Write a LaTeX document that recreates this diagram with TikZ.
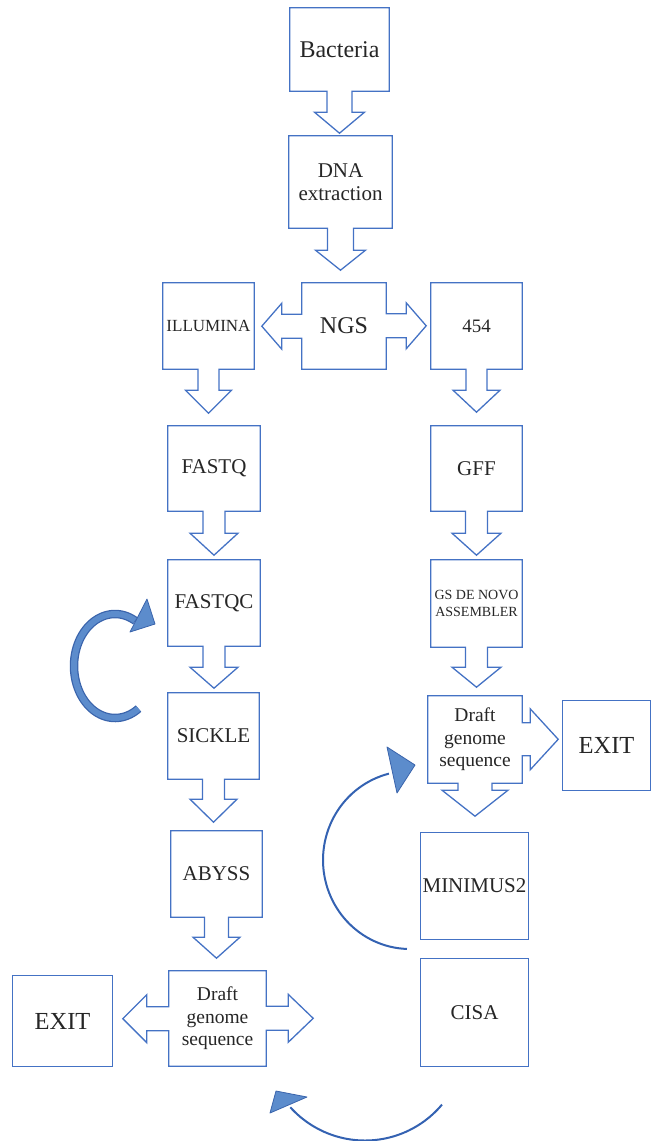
\documentclass[tikz,border=0pt]{standalone}
\usepackage{fontspec}
\setmainfont{Liberation Serif}
\definecolor{boxblue}{RGB}{68,114,196}
\definecolor{arcblue}{RGB}{52,98,178}
\definecolor{arrowfill}{RGB}{92,140,204}
\definecolor{arrowedge}{RGB}{58,100,172}
\definecolor{txtgray}{RGB}{38,38,38}
\newcommand{\fsz}[2]{\fontsize{#1}{#2}\selectfont}
% down-arrow callout outline: name, stem half width, stem length, head half width, head length
\newcommand{\dcall}[5]{%
  \draw[outl] (#1.north west) -- (#1.north east) -- (#1.south east)
    -- ([xshift=#2pt]#1.south) -- ++(0,#3) -- ++(#4-#2,0) -- ++(-#4,#5)
    -- ++(-#4,-#5) -- ++(#4-#2,0) -- ++(0,-#3) -- (#1.south west) -- cycle;}
\begin{document}
\begin{tikzpicture}[x=1pt,y=-1pt,
  bx/.style={inner sep=0pt, align=center, text=txtgray},
  outl/.style={draw=boxblue, line width=1.3pt, line join=miter},
  arcline/.style={draw=arcblue, line width=2pt},
  headtri/.style={fill=arrowfill, draw=arrowedge, line width=0.8pt, line join=round}]
\useasboundingbox (0,0) rectangle (651,1141);

% nodes
\node[bx, minimum width=99pt, minimum height=83pt, font=\fsz{24}{26}] (bact) at (339.5,49.5) {Bacteria};
\node[bx, minimum width=103pt, minimum height=92pt, font=\fsz{21}{23}] (dna) at (340.5,182) {DNA\\extraction};
\node[bx, minimum width=84pt, minimum height=86pt, font=\fsz{24}{26}] (ngs) at (344,326) {NGS};
\node[bx, minimum width=91pt, minimum height=86pt, font=\fsz{17}{19}] (ill) at (208.5,326) {ILLUMINA};
\node[bx, minimum width=91pt, minimum height=86pt, font=\fsz{19}{21}] (f454) at (476.5,326) {454};
\node[bx, minimum width=92pt, minimum height=85pt, font=\fsz{21}{23}] (fastq) at (214,468.5) {FASTQ};
\node[bx, minimum width=92pt, minimum height=86pt, font=\fsz{21}{23}] (fastqc) at (214,603) {FASTQC};
\node[bx, minimum width=91pt, minimum height=86pt, font=\fsz{21}{23}] (sickle) at (213.5,736) {SICKLE};
\node[bx, minimum width=91pt, minimum height=86pt, font=\fsz{21}{23}] (abyss) at (216.5,874) {ABYSS};
\node[bx, minimum width=97pt, minimum height=95pt, font=\fsz{19.5}{22.5}] (dl) at (217.5,1018.5) {Draft\\genome\\sequence};
\node[bx, minimum width=99pt, minimum height=90pt, font=\fsz{24.5}{26}] (exitl) at (62.5,1021) {EXIT};
\node[bx, minimum width=91pt, minimum height=85pt, font=\fsz{21}{23}] (gff) at (476.5,468.5) {GFF};
\node[bx, minimum width=91pt, minimum height=87pt, font=\fsz{14}{17}] (gs) at (476.5,603.5) {GS DE NOVO\\ASSEMBLER};
\node[bx, minimum width=94pt, minimum height=87pt, font=\fsz{19.5}{22.5}] (dr) at (475,739.5) {Draft\\genome\\sequence};
\node[bx, minimum width=87pt, minimum height=89pt, font=\fsz{24.5}{26}] (exitr) at (606.5,745.5) {EXIT};
\node[bx, minimum width=107pt, minimum height=106pt, font=\fsz{21}{23}] (mini) at (474.5,886) {MINIMUS2};
\node[bx, minimum width=107pt, minimum height=107pt, font=\fsz{21}{23}] (cisa) at (474.5,1012.5) {CISA};

% down-arrow callouts
\dcall{bact}{12.5}{21}{25}{21}
\dcall{dna}{13}{22}{25}{20}
\dcall{ill}{10.5}{21}{23}{23}
\dcall{f454}{10.5}{21}{23.5}{22}
\dcall{fastq}{11}{22}{24}{22}
\dcall{fastqc}{11}{21}{24}{21}
\dcall{sickle}{11}{20}{23.5}{23}
\dcall{abyss}{12}{20}{23.5}{21}
\dcall{gff}{11}{22}{24.5}{22}
\dcall{gs}{11}{20}{24.5}{20}

% NGS: left-right arrow callout
\draw[outl] (ngs.north west) -- (ngs.north east) -- ++(0,31) -- ++(20,0) -- ++(0,-11)
  -- ++(20,23) -- ++(-20,23) -- ++(0,-11) -- ++(-20,0) -- (ngs.south east)
  -- (ngs.south west) -- ++(0,-31) -- ++(-20,0) -- ++(0,11) -- ++(-20,-23)
  -- ++(20,-23) -- ++(0,11) -- ++(20,0) -- cycle;

% Draft genome sequence (left): left-right arrow callout
\draw[outl] (dl.north west) -- (dl.north east) -- ++(0,35.5) -- ++(22,0) -- ++(0,-12)
  -- ++(25,24) -- ++(-25,24) -- ++(0,-12) -- ++(-22,0) -- (dl.south east)
  -- (dl.south west) -- ++(0,-35.5) -- ++(-22,0) -- ++(0,12) -- ++(-24,-24)
  -- ++(24,-24) -- ++(0,12) -- ++(22,0) -- cycle;

% Draft genome sequence (right): right + down arrow callout
\draw[outl] (dr.north west) -- (dr.north east) -- ++(0,27) -- ++(8,0) -- ++(0,-14)
  -- ++(28,30.5) -- ++(-28,30.5) -- ++(0,-14) -- ++(-8,0) -- (dr.south east)
  -- ([xshift=17pt]dr.south) -- ++(0,7) -- ++(16,0) -- ++(-33,26) -- ++(-33,-26)
  -- ++(16,0) -- ++(0,-7) -- (dr.south west) -- cycle;

% plain boxes
\draw[outl] (exitl.north west) rectangle (exitl.south east);
\draw[outl] (exitr.north west) rectangle (exitr.south east);
\draw[outl] (mini.north west) rectangle (mini.south east);
\draw[outl] (cisa.north west) rectangle (cisa.south east);

% curved arrow: SICKLE back to FASTQC
\coordinate (loopA) at (130,632);
\coordinate (loopB) at (147,599);
\coordinate (loopTip) at (155,624);
\draw[draw=arrowedge, line width=8.5pt] plot[domain=55:300, samples=80, smooth] ({115+41*cos(\x)},{666+52*sin(\x)});
\draw[headtri] (loopA) -- (loopB) -- (loopTip) -- cycle;
\draw[draw=arrowfill, line width=6pt] plot[domain=55:299, samples=80, smooth] ({115+41*cos(\x)},{666+52*sin(\x)});

% curved arrow: back to right draft genome
\coordinate (rA) at (387,747);
\coordinate (rB) at (397,793);
\coordinate (rTip) at (415,765);
\draw[arcline] plot[domain=104:268, samples=60, smooth] ({410+87*cos(\x)},{860-89*sin(\x)});
\draw[headtri] (rA) -- (rTip) -- (rB) -- cycle;

% curved arrow at bottom
\coordinate (bA) at (270,1113);
\coordinate (bB) at (307,1097);
\coordinate (bTip) at (276,1091);
\draw[arcline] plot[domain=-138:-40, samples=50, smooth] ({365+100.5*cos(\x)},{1040-100.5*sin(\x)});
\draw[headtri] (bA) -- (bTip) -- (bB) -- cycle;
\end{tikzpicture}
\end{document}
